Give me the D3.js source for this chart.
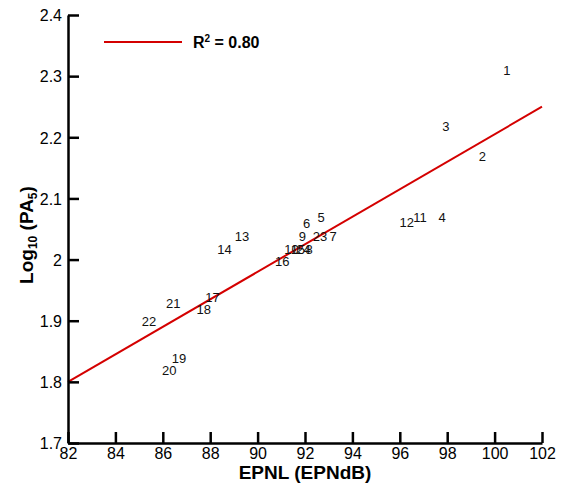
<!DOCTYPE html>
<html>
<head>
<meta charset="utf-8">
<script src="https://cdn.jsdelivr.net/npm/d3@7/dist/d3.min.js"></script>
<style>
  body { margin: 0; background: #fff; }
  svg { font-family: "Liberation Sans", Arial, sans-serif; }
</style>
</head>
<body>
<svg id="chart" width="563" height="485"></svg>
<script>
// point labels and their values (EPNL, log10 PA5)
var pointIds = ['1','2','3','4','5','6','7','8','9','10','11','12',
                '13','14','15','16','17','18','19','20','21','22','23','24'];
var epnl = [100.52, 99.48, 97.94, 97.79, 92.68, 92.07, 93.19, 92.17, 91.89, 91.43, 96.85, 96.29,
            89.34, 88.6, 91.7, 91.04, 88.1, 87.73, 86.68, 86.27, 86.44, 85.42, 92.63, 91.94];
var logPA = [2.309, 2.168, 2.218, 2.068, 2.069, 2.059, 2.038, 2.016, 2.038, 2.017, 2.068, 2.060,
             2.038, 2.017, 2.017, 1.997, 1.938, 1.918, 1.839, 1.818, 1.928, 1.899, 2.038, 2.017];

// fitted line end points
var fitX = [82, 102];
var fitY = [1.8, 2.25];

var xTicks = [82, 84, 86, 88, 90, 92, 94, 96, 98, 100, 102];
var yTicks = [1.7, 1.8, 1.9, 2.0, 2.1, 2.2, 2.3, 2.4];
var yTickLabels = ['1.7', '1.8', '1.9', '2', '2.1', '2.2', '2.3', '2.4'];

var svg = d3.select('#chart');
var plotL = 68, plotR = 542, plotT = 15, plotB = 443;

var x = d3.scaleLinear().domain([82, 102]).range([plotL, plotR]);
var y = d3.scaleLinear().domain([1.7, 2.4]).range([plotB, plotT]);

var red = '#d40000';

// fit line
svg.append('line')
    .attr('x1', x(fitX[0])).attr('y1', y(fitY[0]))
    .attr('x2', x(fitX[1])).attr('y2', y(fitY[1]))
    .attr('stroke', red).attr('stroke-width', 2);

// point labels
svg.append('g').selectAll('text')
    .data(pointIds)
    .enter().append('text')
    .attr('x', function(d, i) { return x(epnl[i]); })
    .attr('y', function(d, i) { return y(logPA[i]); })
    .attr('text-anchor', 'middle')
    .attr('dominant-baseline', 'central')
    .style('font-size', '13px')
    .attr('fill', '#111')
    .text(function(d) { return d; });

// axes
var xAxis = svg.append('g')
    .attr('transform', 'translate(0,' + plotB + ')')
    .call(d3.axisBottom(x).tickValues(xTicks).tickSizeInner(-11).tickSizeOuter(0).tickPadding(5)
        .tickFormat(d3.format('d')));

var yAxis = svg.append('g')
    .attr('transform', 'translate(' + plotL + ',0)')
    .call(d3.axisLeft(y).tickValues(yTicks).tickSizeInner(-11).tickSizeOuter(0).tickPadding(6)
        .tickFormat(function(d, i) { return yTickLabels[i]; }));

[xAxis, yAxis].forEach(function(a) {
    a.selectAll('path, line').attr('stroke', '#000').attr('stroke-width', 2.5);
    a.selectAll('text').attr('fill', '#000')
        .style('font-size', '16px').style('font-family', '"Liberation Sans", Arial, sans-serif');
});
yAxis.selectAll('text').attr('dy', '0.36em');

// axis titles
svg.append('text')
    .attr('x', (plotL + plotR) / 2).attr('y', 479)
    .attr('text-anchor', 'middle')
    .style('font-size', '19px').style('font-weight', 'bold')
    .text('EPNL (EPNdB)');

var yt = svg.append('text')
    .attr('transform', 'translate(33,235) rotate(-90)')
    .attr('text-anchor', 'middle')
    .style('font-size', '19px').style('font-weight', 'bold');
yt.append('tspan').text('Log');
yt.append('tspan').attr('dy', 4).style('font-size', '12px').text('10');
yt.append('tspan').attr('dy', -4).text(' (PA');
yt.append('tspan').attr('dy', 4).style('font-size', '12px').text('5');
yt.append('tspan').attr('dy', -4).text(')');

// legend
svg.append('line')
    .attr('x1', 104).attr('x2', 182).attr('y1', 42).attr('y2', 42)
    .attr('stroke', red).attr('stroke-width', 2);
var lg = svg.append('text')
    .attr('x', 193).attr('y', 48)
    .style('font-size', '16px').style('font-weight', 'bold');
lg.append('tspan').text('R');
lg.append('tspan').attr('dy', -6).style('font-size', '10px').text('2');
lg.append('tspan').attr('dy', 6).text(' = 0.80');
</script>
</body>
</html>
